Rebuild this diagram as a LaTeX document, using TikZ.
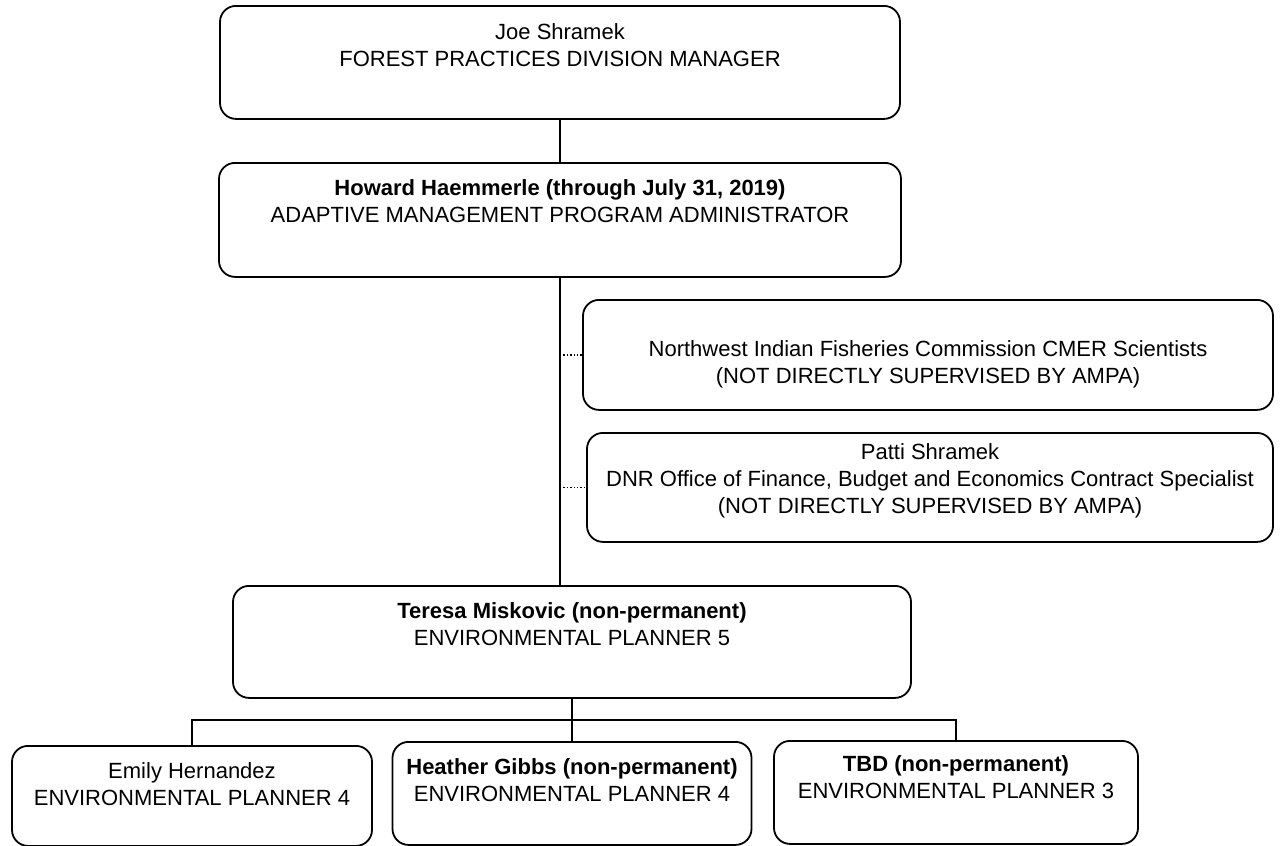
\documentclass[tikz,border=0pt]{standalone}
\usepackage{fontspec}
\setmainfont{Liberation Sans}
\begin{document}
\begin{tikzpicture}[x=0.5pt,y=-0.5pt,
    box/.style={draw, line width=0.9pt, rounded corners=8pt, align=center,
      inner ysep=0pt, anchor=north},
    link/.style={line width=0.7pt}]
    \useasboundingbox (0,0) rectangle (1281,846);
    \fontsize{11}{13.5}\selectfont

    \node[box, minimum width=340pt, text height=30.5pt, text depth=26pt] (joe) at (560,5)
      {Joe Shramek\\FOREST PRACTICES DIVISION MANAGER};
    \node[box, minimum width=341pt, text height=30pt, text depth=27pt] (howard) at (560,162)
      {\textbf{Howard Haemmerle (through July 31, 2019)}\\ADAPTIVE MANAGEMENT PROGRAM ADMINISTRATOR};
    \node[box, minimum width=345pt, text height=42pt, text depth=13pt] (nwifc) at (928,299)
      {Northwest Indian Fisheries Commission CMER Scientists\\(NOT DIRECTLY SUPERVISED BY AMPA)};
    \node[box, minimum width=343pt, text height=40.5pt, text depth=14pt] (patti) at (930,432)
      {Patti Shramek\\DNR Office of Finance, Budget and Economics Contract Specialist\\(NOT DIRECTLY SUPERVISED BY AMPA)};
    \node[box, minimum width=339pt, text height=30pt, text depth=26pt] (teresa) at (572,585)
      {\textbf{Teresa Miskovic (non-permanent)}\\ENVIRONMENTAL PLANNER 5};

    \node[box, minimum width=180pt, text height=30pt, text depth=20pt] (emily) at (192,745)
      {Emily Hernandez\\ENVIRONMENTAL PLANNER 4};
    \node[box, minimum width=179.5pt, text height=30pt, text depth=21.5pt] (heather) at (572,741)
      {\textbf{Heather Gibbs (non-permanent)}\\ENVIRONMENTAL PLANNER 4};
    \node[box, minimum width=182pt, text height=29pt, text depth=22.5pt] (tbd) at (956,740)
      {\textbf{TBD (non-permanent)}\\ENVIRONMENTAL PLANNER 3};

    \draw[link] (joe.south) -- (howard.north);
    \draw[link] (howard.south) -- (howard.south |- teresa.north);
    \draw[link, densely dotted] (howard.south |- nwifc.west) -- (nwifc.west);
    \draw[link, densely dotted] (howard.south |- patti.west) -- (patti.west);

    \coordinate (bus) at (572,720);
    \draw[link] (teresa.south) -- (heather.north);
    \draw[link] (emily.north) |- (bus) -| (tbd.north);
\end{tikzpicture}
\end{document}
